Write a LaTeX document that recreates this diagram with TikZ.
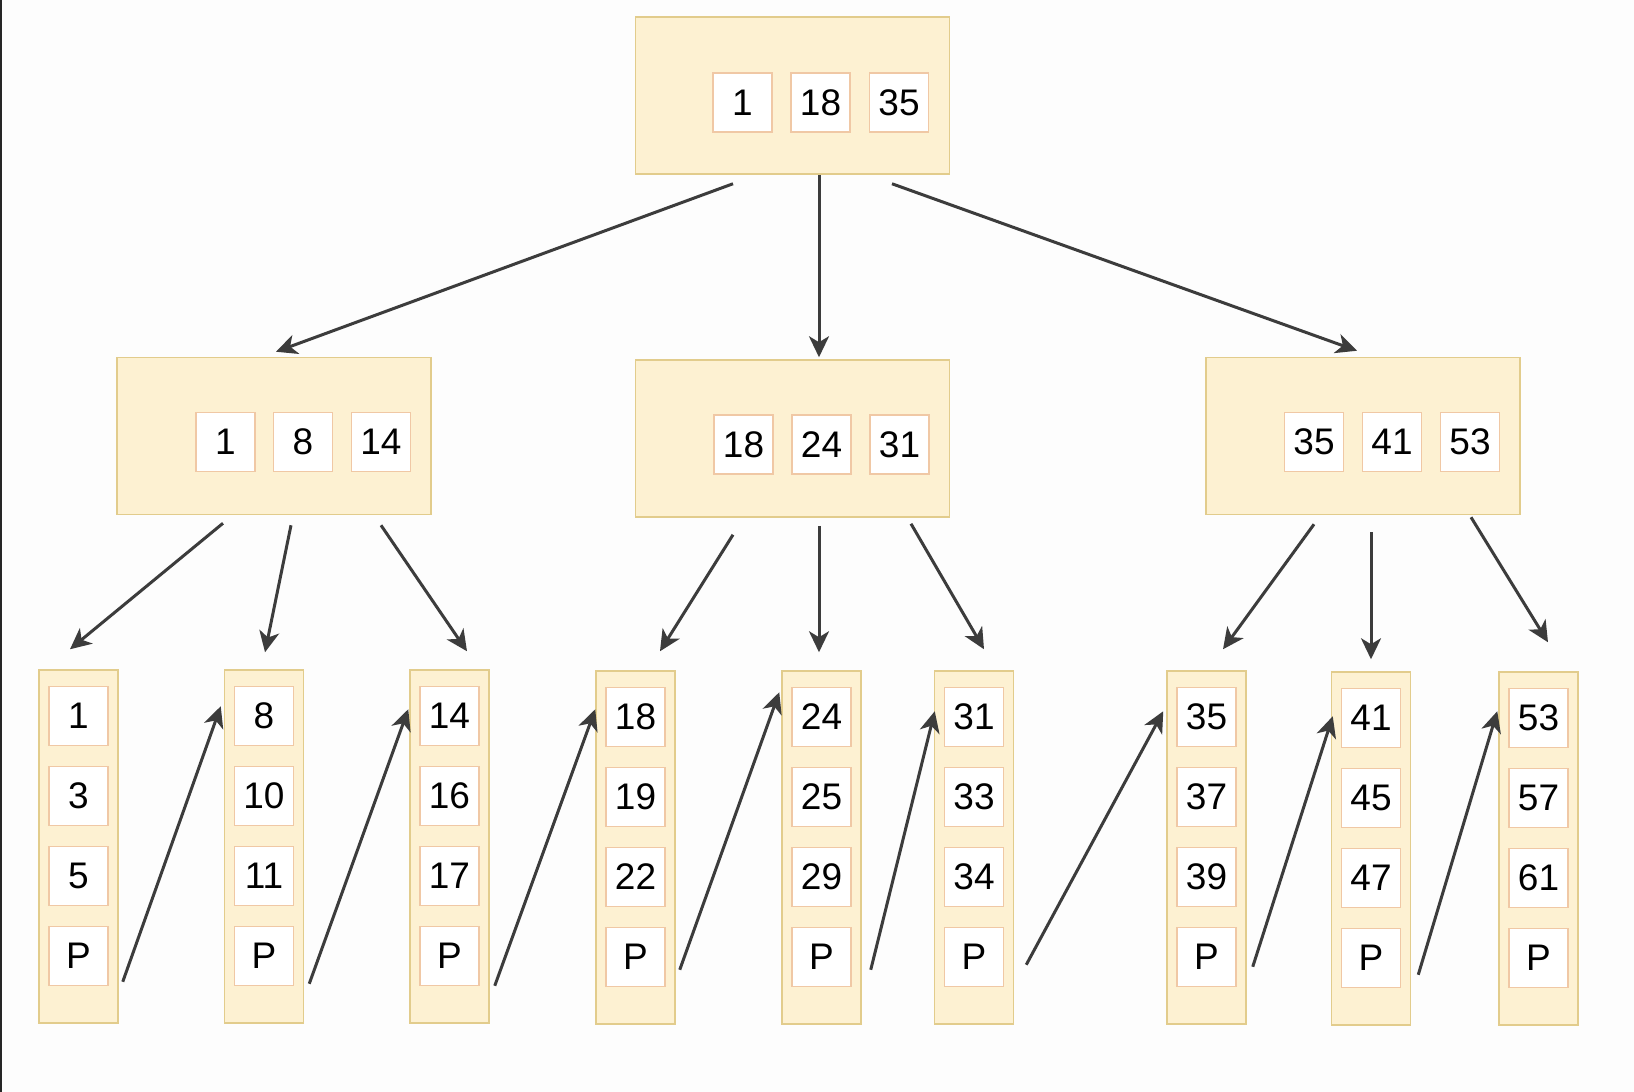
\documentclass[tikz,border=0pt]{standalone}
\usepackage{fontspec}
\setmainfont{Liberation Sans}
\usetikzlibrary{arrows.meta,calc}
\definecolor{bgc}{RGB}{253,253,253}
\definecolor{boxfill}{RGB}{253,241,210}
\definecolor{boxdraw}{RGB}{226,204,140}
\definecolor{keydraw}{RGB}{240,200,165}
\definecolor{arrc}{RGB}{60,60,60}
\tikzset{
  inode/.style={draw=boxdraw,fill=boxfill,line width=1.5pt,minimum width=314pt,minimum height=157pt,inner sep=0pt},
  lnode/.style={draw=boxdraw,fill=boxfill,line width=1.5pt,minimum width=79pt,minimum height=353pt,inner sep=0pt},
  keybox/.style={draw=keydraw,fill=white,line width=1.5pt,minimum width=59pt,minimum height=59pt,inner sep=0pt,font=\fontsize{37}{37}\selectfont,text=black},
  arr/.style={draw=arrc,line width=3pt,-{Stealth[length=21pt,width=20pt,inset=6pt]}}
}
\begin{document}
\begin{tikzpicture}[x=1pt,y=-1pt]
\fill[bgc] (0,0) rectangle (1634,1092);
\useasboundingbox (0,0) rectangle (1634,1092);
\fill[black!85] (0,0) rectangle (2,1092);
% root
\node[inode] (root) at (792.5,95.5) {};
\node[keybox] (rk1) at (742.5,102.5) {1};
\node[keybox] (rk2) at (820.5,102.5) {18};
\node[keybox] (rk3) at (899,102.5) {35};
% internal nodes
\node[inode] (L) at (274,436) {};
\node[keybox] (Lk1) at (225.5,442) {1};
\node[keybox] (Lk2) at (303,442) {8};
\node[keybox] (Lk3) at (381,442) {14};
\node[inode] (M) at (792.5,438.5) {};
\node[keybox] (Mk1) at (743.5,444.5) {18};
\node[keybox] (Mk2) at (821.5,444.5) {24};
\node[keybox] (Mk3) at (899.5,444.5) {31};
\node[inode] (R) at (1363,436) {};
\node[keybox] (Rk1) at (1314,442) {35};
\node[keybox] (Rk2) at (1392,442) {41};
\node[keybox] (Rk3) at (1470,442) {53};
% leaves
\foreach \n/\x/\t/\a/\b/\c in {1/78.5/670/1/3/5, 2/264/670/8/10/11, 3/449.5/670/14/16/17,
  4/635.5/671/18/19/22, 5/821.5/671/24/25/29, 6/974/671/31/33/34,
  7/1206.5/671/35/37/39, 8/1371/672/41/45/47, 9/1538.5/672/53/57/61}{
  \node[lnode] (leaf\n) at (\x,\t+176.5) {};
  \node[keybox] (leaf\n k1) at (\x,\t+46) {\a};
  \node[keybox] (leaf\n k2) at (\x,\t+126) {\b};
  \node[keybox] (leaf\n k3) at (\x,\t+206) {\c};
  \node[keybox] (leaf\n k4) at (\x,\t+286) {P};
}
% root to internal
\draw[arr] ($(root.south)+(-59.5,9)$) -- ($(L.north)+(2,-5)$);
\draw[arr] ($(root.south)+(26.5,0)$) -- ($(M.north)+(26.5,-2)$);
\draw[arr] ($(root.south)+(99.5,9)$) -- ($(R.north)+(-6,-6)$);
% internal to leaves
\draw[arr] ($(L.south)+(-51,8)$) -- ($(leaf1.north)+(-8.5,-20)$);
\draw[arr] ($(L.south)+(17,10)$) -- ($(leaf2.north)+(1,-17)$);
\draw[arr] ($(L.south)+(107,10)$) -- ($(leaf3.north)+(17.5,-18)$);
\draw[arr] ($(M.south)+(-59.5,17)$) -- ($(leaf4.north)+(24.5,-19)$);
\draw[arr] ($(M.south)+(26.5,8)$) -- ($(leaf5.north)+(-2.5,-18)$);
\draw[arr] ($(M.south)+(118.5,6)$) -- ($(leaf6.north)+(10,-21)$);
\draw[arr] ($(R.south)+(-49,9)$) -- ($(leaf7.north)+(16.5,-21)$);
\draw[arr] ($(R.south)+(8,17)$) -- ($(leaf8.north)+(0,-12)$);
\draw[arr] ($(R.south)+(108,2)$) -- ($(leaf9.north)+(9.5,-29)$);
% leaf links
\draw[arr] ($(leaf1.south east)+(4,-42)$) -- ($(leaf2.north west)+(-3,37)$);
\draw[arr] ($(leaf2.south east)+(5,-40)$) -- ($(leaf3.north west)+(-1,40)$);
\draw[arr] ($(leaf3.south east)+(5,-38)$) -- ($(leaf4.north west)+(0,39)$);
\draw[arr] ($(leaf4.south east)+(4,-55)$) -- ($(leaf5.north west)+(-2,22)$);
\draw[arr] ($(leaf5.south east)+(9,-55)$) -- ($(leaf6.north west)+(1,41)$);
\draw[arr] ($(leaf6.south east)+(12,-60)$) -- ($(leaf7.north west)+(-3,41)$);
\draw[arr] ($(leaf7.south east)+(6,-58)$) -- ($(leaf8.north west)+(2,45)$);
\draw[arr] ($(leaf8.south east)+(7,-51)$) -- ($(leaf9.north west)+(-1,40)$);
\end{tikzpicture}
\end{document}
